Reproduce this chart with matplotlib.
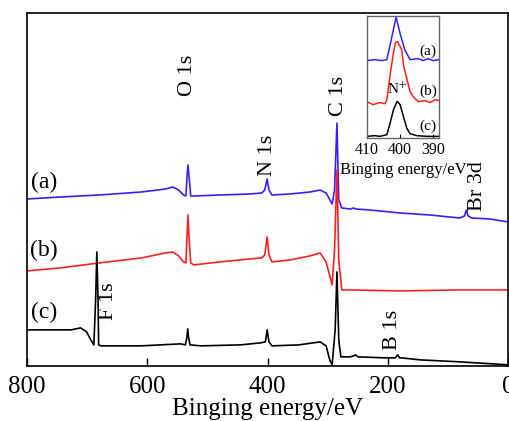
import matplotlib.pyplot as plt

plt.rcParams['font.family'] = ['Liberation Serif', 'DejaVu Serif']
plt.rcParams['mathtext.fontset'] = 'stix'

# survey spectra (binding energy in eV, intensity in arbitrary units, offset per sample)
a_e = [800, 745, 680, 610, 570, 558, 548, 540, 536, 534, 532.5, 531, 528, 523, 480, 430, 410, 405,
       401, 398, 393, 363, 330, 313, 303, 293, 289, 285, 282, 277, 263, 257, 254, 230, 180, 131,
       81, 73, 70, 67, 61, 31, 0]
a_i = [167, 169, 171, 174, 177, 179, 176, 171, 170, 191, 201, 191, 170, 170, 171, 172, 173, 176,
       187, 176, 171, 172, 174, 176, 173, 162, 176, 243, 166, 158, 157, 158, 157, 156, 153, 151,
       148, 150, 156, 150, 148, 147, 144]

b_e = [800, 745, 680, 610, 570, 558, 548, 540, 536, 534, 532.5, 531, 528, 523, 480, 430, 410, 405,
       401, 398, 393, 363, 330, 313, 303, 293, 289, 285, 282, 277, 263, 180, 81, 0]
b_i = [95, 98, 103, 108, 113, 114, 110, 104, 103, 131, 151, 131, 103, 101, 104, 107, 108, 111,
       129, 111, 104, 106, 110, 113, 104, 81, 116, 196, 106, 76, 76, 75, 76, 76]

c_e = [800, 744, 727, 711, 701, 694, 689, 686, 684, 682, 681, 677, 611, 578, 545, 537, 534.5,
       533, 531.5, 529, 511, 445, 412, 404, 401, 398, 393, 348, 313, 303, 297, 293, 288, 285,
       282, 278.5, 263, 257, 254, 250, 205, 188, 184, 181, 178, 147, 81, 0]
c_i = [36, 36, 36, 38, 34, 26, 21, 66, 114, 66, 21, 20, 20, 21, 22, 21, 28, 37, 28, 21, 20, 21,
       23, 24, 36, 24, 20, 21, 24, 20, 6, 1, 36, 94, 26, 9, 9, 10, 11, 9, 8, 8, 11, 8, 8, 6,
       4, 1]

# N 1s high resolution inset
ia_e = [410.1, 407.6, 405.5, 404.0, 402.6, 401.2, 400.0, 398.6, 397.0, 394.5, 393.0, 391.5, 390.0, 388.2]
ia_i = [77, 78, 77, 78, 99, 120.7, 104, 88, 78, 79, 77, 79, 77, 78]

ib_e = [410.1, 408.2, 406.1, 404.5, 404.0, 403.0, 402.0, 401.4, 400.8, 399.5, 399.0, 397.9, 397.0,
        395.8, 394.5, 392.4, 390.9, 389.4, 388.2]
ib_i = [36, 33, 35, 34, 38, 63, 85, 95, 96, 88, 73, 58, 46, 40, 36, 37, 35, 38, 37]

ic_e = [410.1, 407.6, 406.1, 404.0, 403.0, 402.0, 400.9, 400.0, 399.0, 398.0, 397.0, 394.9, 391.9, 388.2]
ic_i = [1.3, 2, 1.3, 3, 14.7, 28, 36.3, 33, 21.3, 9.7, 4, 2, 1.3, 1.3]

blue = '#3a1eff'
red = '#ff1f1f'

fig = plt.figure(figsize=(5.1, 4.21), dpi=100)
ax = fig.add_axes([0.053, 0.131, 0.944, 0.837])

ax.plot(a_e, a_i, color=blue, lw=1.2)
ax.plot(b_e, b_i, color=red, lw=1.2)
ax.plot(c_e, c_i, color='black', lw=1.2)

ax.set_xlim(800, 0)
ax.set_ylim(0, 352.7)
ax.set_xticks([800, 600, 400, 200, 0])
ax.set_yticks([])
ax.tick_params(axis='x', direction='in', length=6, width=1, labelsize=18, pad=7)
for s in ax.spines.values():
    s.set_linewidth(1.2)
ax.set_xlabel('Binging energy/eV', fontsize=18, labelpad=0)

for txt, y in [('(a)', 184), ('(b)', 116), ('(c)', 53)]:
    ax.text(772, y, txt, fontsize=17, ha='center', va='center')

peaks = [('O 1s', 534, 291), ('N 1s', 401, 211), ('C 1s', 283, 270),
         ('Br 3d', 52, 180), ('F 1s', 665, 65), ('B 1s', 192, 36)]
for txt, x, y in peaks:
    ax.text(x, y, txt, fontsize=16, rotation=90, ha='center', va='center')

ins = fig.add_axes([0.719, 0.673, 0.142, 0.290])
ins.plot(ia_e, ia_i, color=blue, lw=1.1)
ins.plot(ib_e, ib_i, color=red, lw=1.1)
ins.plot(ic_e, ic_i, color='black', lw=1.1)
ins.set_xlim(410.1, 388.2)
ins.set_ylim(0, 122)
ins.set_xticks([410, 400, 390])
ins.set_yticks([])
ins.tick_params(axis='x', direction='in', length=3, width=0.8, labelsize=11.5, pad=3)
for s in ins.spines.values():
    s.set_color('#666666')
    s.set_linewidth(1)
ins.set_xlabel('Binging energy/eV', fontsize=12, labelpad=3)
for txt, y in [('(a)', 86), ('(b)', 46), ('(c)', 11)]:
    ins.text(391.5, y, txt, fontsize=11, ha='center', va='center')
ins.text(400.9, 48, 'N$^{+}$', fontsize=11, ha='center', va='center')

fig.savefig('out.png', dpi=100)
